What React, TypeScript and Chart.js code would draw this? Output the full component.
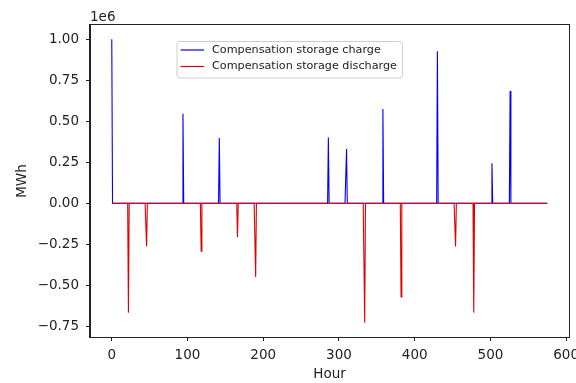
import React, { useEffect, useRef } from "react";
import { Chart, registerables } from "chart.js";

Chart.register(...registerables);

// ---- data ----
const hourCount = 576;
const chargeHours = [0, 94, 142, 286, 310, 358, 430, 502, 526];
const chargeValues = [1000000, 545000, 397000, 400000, 330000, 575000, 926000, 244000, 684000];
const dischargeHours = [22, 46, 118, 166, 190, 334, 382, 454, 478];
const dischargeValues = [-668000, -263000, -293000, -208000, -450000, -729000, -571000, -263000, -666000];
const xTicks = [0, 100, 200, 300, 400, 500, 600];
const yTicks = [-750000, -500000, -250000, 0, 250000, 500000, 750000, 1000000];
const seriesLabels = ["Compensation storage charge", "Compensation storage discharge"];
const seriesColors = ["#0000ff", "#e00000"];

const hours = Array.from({ length: hourCount }, (_, i) => i);
const buildSeries = (spikeHours: number[], spikeValues: number[]) =>
  hours.map((h) => {
    const k = spikeHours.indexOf(h);
    return { x: h, y: k >= 0 ? spikeValues[k] : 0 };
  });

const FONT = "'DejaVu Sans', sans-serif";

const decorPlugin = {
  id: "decor",
  afterDraw(chart: any) {
    const { ctx, chartArea } = chart;
    const { left, top, right, bottom } = chartArea;
    ctx.save();
    // frame
    ctx.strokeStyle = "#222";
    ctx.lineWidth = 1;
    ctx.strokeRect(Math.round(left) - 0.5, Math.round(top) - 0.5, Math.round(right - left) + 1, Math.round(bottom - top) + 1);
    // offset text
    ctx.fillStyle = "#222";
    ctx.font = `13.5px ${FONT}`;
    ctx.textAlign = "left";
    ctx.textBaseline = "alphabetic";
    ctx.fillText("1e6", left, 21);
    // legend
    const bx = 177, by = 41.5, bw = 225.5, bh = 36.5;
    ctx.beginPath();
    (ctx as any).roundRect(bx, by, bw, bh, 3);
    ctx.fillStyle = "rgba(255,255,255,0.8)";
    ctx.fill();
    ctx.strokeStyle = "#cccccc";
    ctx.lineWidth = 1;
    ctx.stroke();
    const rows = [50, 66.5];
    ctx.font = `11.2px ${FONT}`;
    ctx.textBaseline = "middle";
    rows.forEach((y, i) => {
      ctx.strokeStyle = seriesColors[i];
      ctx.lineWidth = 1.2;
      ctx.beginPath();
      ctx.moveTo(180.5, y);
      ctx.lineTo(204, y);
      ctx.stroke();
      ctx.fillStyle = "#222";
      ctx.fillText(seriesLabels[i], 212, y);
    });
    ctx.restore();
  },
};

export default function App() {
  const ref = useRef<HTMLCanvasElement | null>(null);
  useEffect(() => {
    if (!ref.current) return;
    const chart = new Chart(ref.current, {
      type: "line",
      data: {
        datasets: [
          {
            label: seriesLabels[0],
            data: buildSeries(chargeHours, chargeValues),
            borderColor: seriesColors[0],
            borderWidth: 1.1,
            pointRadius: 0,
            tension: 0,
            fill: false,
            order: 1,
          },
          {
            label: seriesLabels[1],
            data: buildSeries(dischargeHours, dischargeValues),
            borderColor: seriesColors[1],
            borderWidth: 1.1,
            pointRadius: 0,
            tension: 0,
            fill: false,
            order: 0,
          },
        ],
      },
      options: {
        animation: false,
        responsive: false,
        maintainAspectRatio: false,
        layout: { padding: { left: 0, top: 25, right: 7, bottom: 0 } },
        plugins: { legend: { display: false }, tooltip: { enabled: false } },
        scales: {
          x: {
            type: "linear",
            min: -28.75,
            max: 603.75,
            afterBuildTicks: (s: any) => {
              s.ticks = xTicks.map((v) => ({ value: v }));
            },
            afterFit: (s: any) => {
              s.height = 46;
              s.paddingLeft = 0;
              s.paddingRight = 0;
            },
            grid: { display: true, drawOnChartArea: false, drawTicks: true, tickLength: 4, color: "#222" },
            border: { display: true, color: "#222" },
            ticks: { color: "#222", font: { family: FONT, size: 13.5 }, padding: 6, maxRotation: 0, autoSkip: false, callback: (v: any) => String(v) },
            title: { display: true, text: "Hour", color: "#222", font: { family: FONT, size: 13.5 }, padding: { top: 0, bottom: 0 } },
          },
          y: {
            type: "linear",
            min: -815500,
            max: 1086500,
            afterBuildTicks: (s: any) => {
              s.ticks = yTicks.map((v) => ({ value: v }));
            },
            afterFit: (s: any) => {
              s.width = 90;
              s.paddingTop = 0;
              s.paddingBottom = 0;
            },
            grid: { display: true, drawOnChartArea: false, drawTicks: true, tickLength: 4, color: "#222" },
            border: { display: true, color: "#222" },
            ticks: {
              color: "#222",
              font: { family: FONT, size: 13.5 },
              padding: 7,
              autoSkip: false,
              callback: (v: any) => (Number(v) / 1e6).toFixed(2).replace("-", "\u2212"),
            },
            title: { display: true, text: "MWh", color: "#222", font: { family: FONT, size: 13.5 }, padding: { top: 14, bottom: 0 } },
          },
        },
      },
      plugins: [decorPlugin],
    });
    return () => chart.destroy();
  }, []);
  return (
    <div style={{ position: "fixed", left: 0, top: 0, width: 576, height: 383, background: "#fff" }}>
      <canvas ref={ref} width={576} height={383} style={{ display: "block" }} />
    </div>
  );
}
